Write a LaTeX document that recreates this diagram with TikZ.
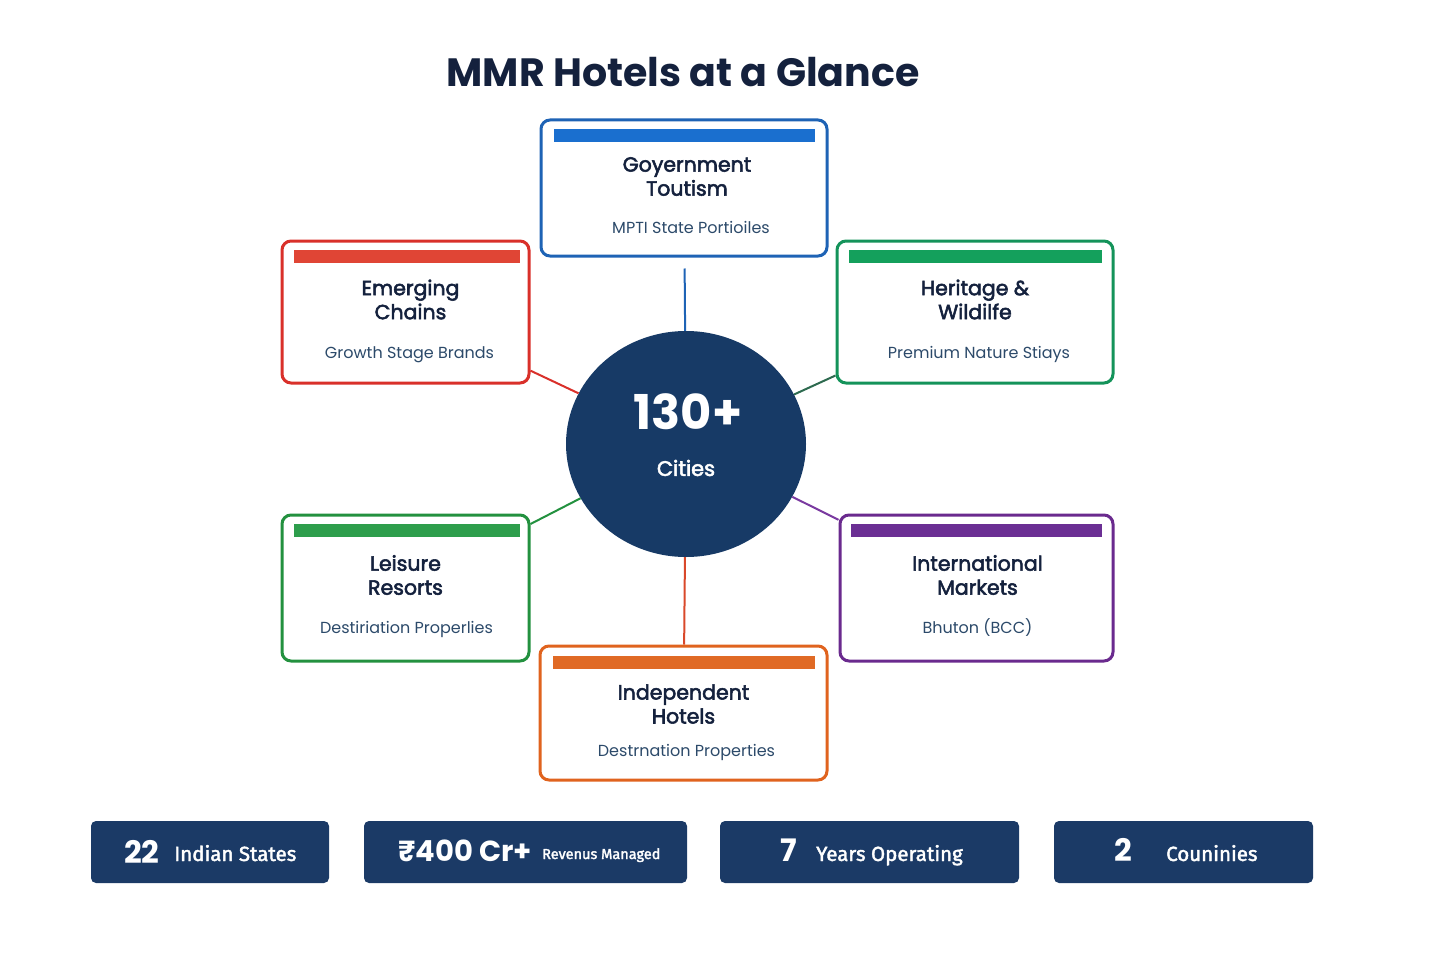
\documentclass[tikz,border=0pt]{standalone}
\usepackage{fontspec}
\setmainfont{Poppins}
\newfontfamily\popmed[FakeBold=2.6]{Poppins}
\newfontfamily\fira[FakeBold=2]{Fira Sans}
\usetikzlibrary{shapes.geometric}
\definecolor{navy}{HTML}{14213D}
\definecolor{subtxt}{HTML}{2C4A6A}
\definecolor{circ}{HTML}{173A66}
\definecolor{stat}{HTML}{1B3A66}
\definecolor{cblue}{HTML}{1E63B5}
\definecolor{bblue}{HTML}{1A6FCF}
\definecolor{cred}{HTML}{D9302A}
\definecolor{bred}{HTML}{E04535}
\definecolor{chgreen}{HTML}{14935A}
\definecolor{bhgreen}{HTML}{14A05C}
\definecolor{clgreen}{HTML}{23913F}
\definecolor{blgreen}{HTML}{2E9E4C}
\definecolor{cpurple}{HTML}{6A2A8E}
\definecolor{bpurple}{HTML}{6B2F94}
\definecolor{corange}{HTML}{E0631E}
\definecolor{borange}{HTML}{E06A25}
\definecolor{lheritage}{HTML}{2D6A4F}
\definecolor{lpurple}{HTML}{7A3AA0}
\definecolor{lbottom}{HTML}{D9482A}
\begin{document}
\begin{tikzpicture}[x=1pt,y=-1pt,
  catbox/.style={draw, line width=3pt, rounded corners=9pt, fill=white, inner sep=0pt},
  boxtitle/.style={text=navy, align=center, font=\popmed\fontsize{20.5}{24}\selectfont, inner sep=0pt},
  boxsub/.style={text=subtxt, font=\fontsize{16}{18}\selectfont, inner sep=0pt},
  statbox/.style={fill=stat, rounded corners=5pt, inner sep=0pt, minimum height=62pt},
  statnum/.style={text=white, anchor=base west, inner sep=0pt, font=\fontsize{31}{34}\selectfont\bfseries},
  statlbl/.style={text=white, anchor=base west, inner sep=0pt, font=\fira\fontsize{20.5}{24}\selectfont},
  link/.style={line width=2pt}
]
\useasboundingbox (0,0) rectangle (1432,955);

% title
\node[text=navy, font=\fontsize{39.5}{44}\selectfont\bfseries, inner sep=0pt] (title) at (683,72) {MMR Hotels at a Glance};

% centre
\node[ellipse, fill=circ, minimum width=240pt, minimum height=226pt, inner sep=0pt] (c) at (686,444) {};
\node[text=white, font=\fontsize{48}{52}\selectfont\bfseries, inner sep=0pt] (cnum) at (688,412) {130+};
\node[text=white, font=\popmed\fontsize{21}{24}\selectfont, inner sep=0pt] (clbl) at (686,468) {Cities};

% category boxes
\node[catbox, draw=cblue, minimum width=286pt, minimum height=136pt] (gov) at (684,188) {};
\fill[bblue] ([xshift=14pt,yshift=-11pt]gov.north west) rectangle ([xshift=-14pt,yshift=-24pt]gov.north east);
\node[boxtitle] (govt) at ([xshift=3pt,yshift=-58pt]gov.north) {Goyernment\\Toutism};
\node[boxsub] (govs) at ([xshift=7pt,yshift=-109pt]gov.north) {MPTI State Portioiles};

\node[catbox, draw=cred, minimum width=247pt, minimum height=142pt] (emg) at (405.5,312) {};
\fill[bred] ([xshift=13pt,yshift=-10pt]emg.north west) rectangle ([xshift=-11pt,yshift=-23pt]emg.north east);
\node[boxtitle] (emgt) at ([xshift=5pt,yshift=-60pt]emg.north) {Emerging\\Chains};
\node[boxsub] (emgs) at ([xshift=4pt,yshift=-115pt]emg.north) {Growth Stage Brands};

\node[catbox, draw=chgreen, minimum width=276pt, minimum height=142pt] (her) at (975,312) {};
\fill[bhgreen] ([xshift=13pt,yshift=-10pt]her.north west) rectangle ([xshift=-13pt,yshift=-23pt]her.north east);
\node[boxtitle] (hert) at ([yshift=-60pt]her.north) {Heritage \&\\Wildilfe};
\node[boxsub] (hers) at ([xshift=4pt,yshift=-115pt]her.north) {Premium Nature Stiays};

\node[catbox, draw=clgreen, minimum width=247pt, minimum height=146pt] (lei) at (405.5,588) {};
\fill[blgreen] ([xshift=13pt,yshift=-10pt]lei.north west) rectangle ([xshift=-11pt,yshift=-23pt]lei.north east);
\node[boxtitle] (leit) at ([yshift=-61.5pt]lei.north) {Leisure\\Resorts};
\node[boxsub] (leis) at ([xshift=1pt,yshift=-116pt]lei.north) {Destiriation Properlies};

\node[catbox, draw=cpurple, minimum width=273pt, minimum height=146pt] (intl) at (976.5,588) {};
\fill[bpurple] ([xshift=12pt,yshift=-10pt]intl.north west) rectangle ([xshift=-13pt,yshift=-23pt]intl.north east);
\node[boxtitle] (intlt) at ([xshift=1pt,yshift=-61.5pt]intl.north) {International\\Markets};
\node[boxsub] (intls) at ([xshift=1pt,yshift=-114pt]intl.north) {Bhuton (BCC)};

\node[catbox, draw=corange, minimum width=287pt, minimum height=134pt] (ind) at (683.5,713) {};
\fill[borange] ([xshift=14pt,yshift=-11pt]ind.north west) rectangle ([xshift=-14pt,yshift=-24pt]ind.north east);
\node[boxtitle] (indt) at ([yshift=-59.5pt]ind.north) {Independent\\Hotels};
\node[boxsub] (inds) at ([xshift=3pt,yshift=-108pt]ind.north) {Destrnation Properties};

% connectors
\draw[link, draw=cblue, shorten <=11pt] (gov) -- (c);
\draw[link, draw=cred] (c) -- (emg);
\draw[link, draw=lheritage] (c) -- (her);
\draw[link, draw=clgreen] (c) -- (lei);
\draw[link, draw=lpurple] (c) -- (intl);
\draw[link, draw=lbottom] (c) -- (ind);

% stats
\node[statbox, minimum width=238pt] (s1) at (210,852) {};
\node[statnum] (s1n) at (124,863) {22};
\node[statlbl] (s1l) at (174,861) {Indian States};

\node[statbox, minimum width=323pt] (s2) at (525.5,852) {};
\node[statnum, font=\fontsize{29}{32}\selectfont\bfseries] (s2n) at (398,861) {₹400 Cr+};
\node[statlbl, font=\fira\fontsize{14.5}{16}\selectfont] (s2l) at (542,859) {Revenus Managed};

\node[statbox, minimum width=299pt] (s3) at (869.5,852) {};
\node[statnum] (s3n) at (780,861) {7};
\node[statlbl] (s3l) at (816,861) {Years Operating};

\node[statbox, minimum width=259pt] (s4) at (1183.5,852) {};
\node[statnum] (s4n) at (1114,861) {2};
\node[statlbl] (s4l) at (1166,861) {Couninies};
\end{tikzpicture}
\end{document}
